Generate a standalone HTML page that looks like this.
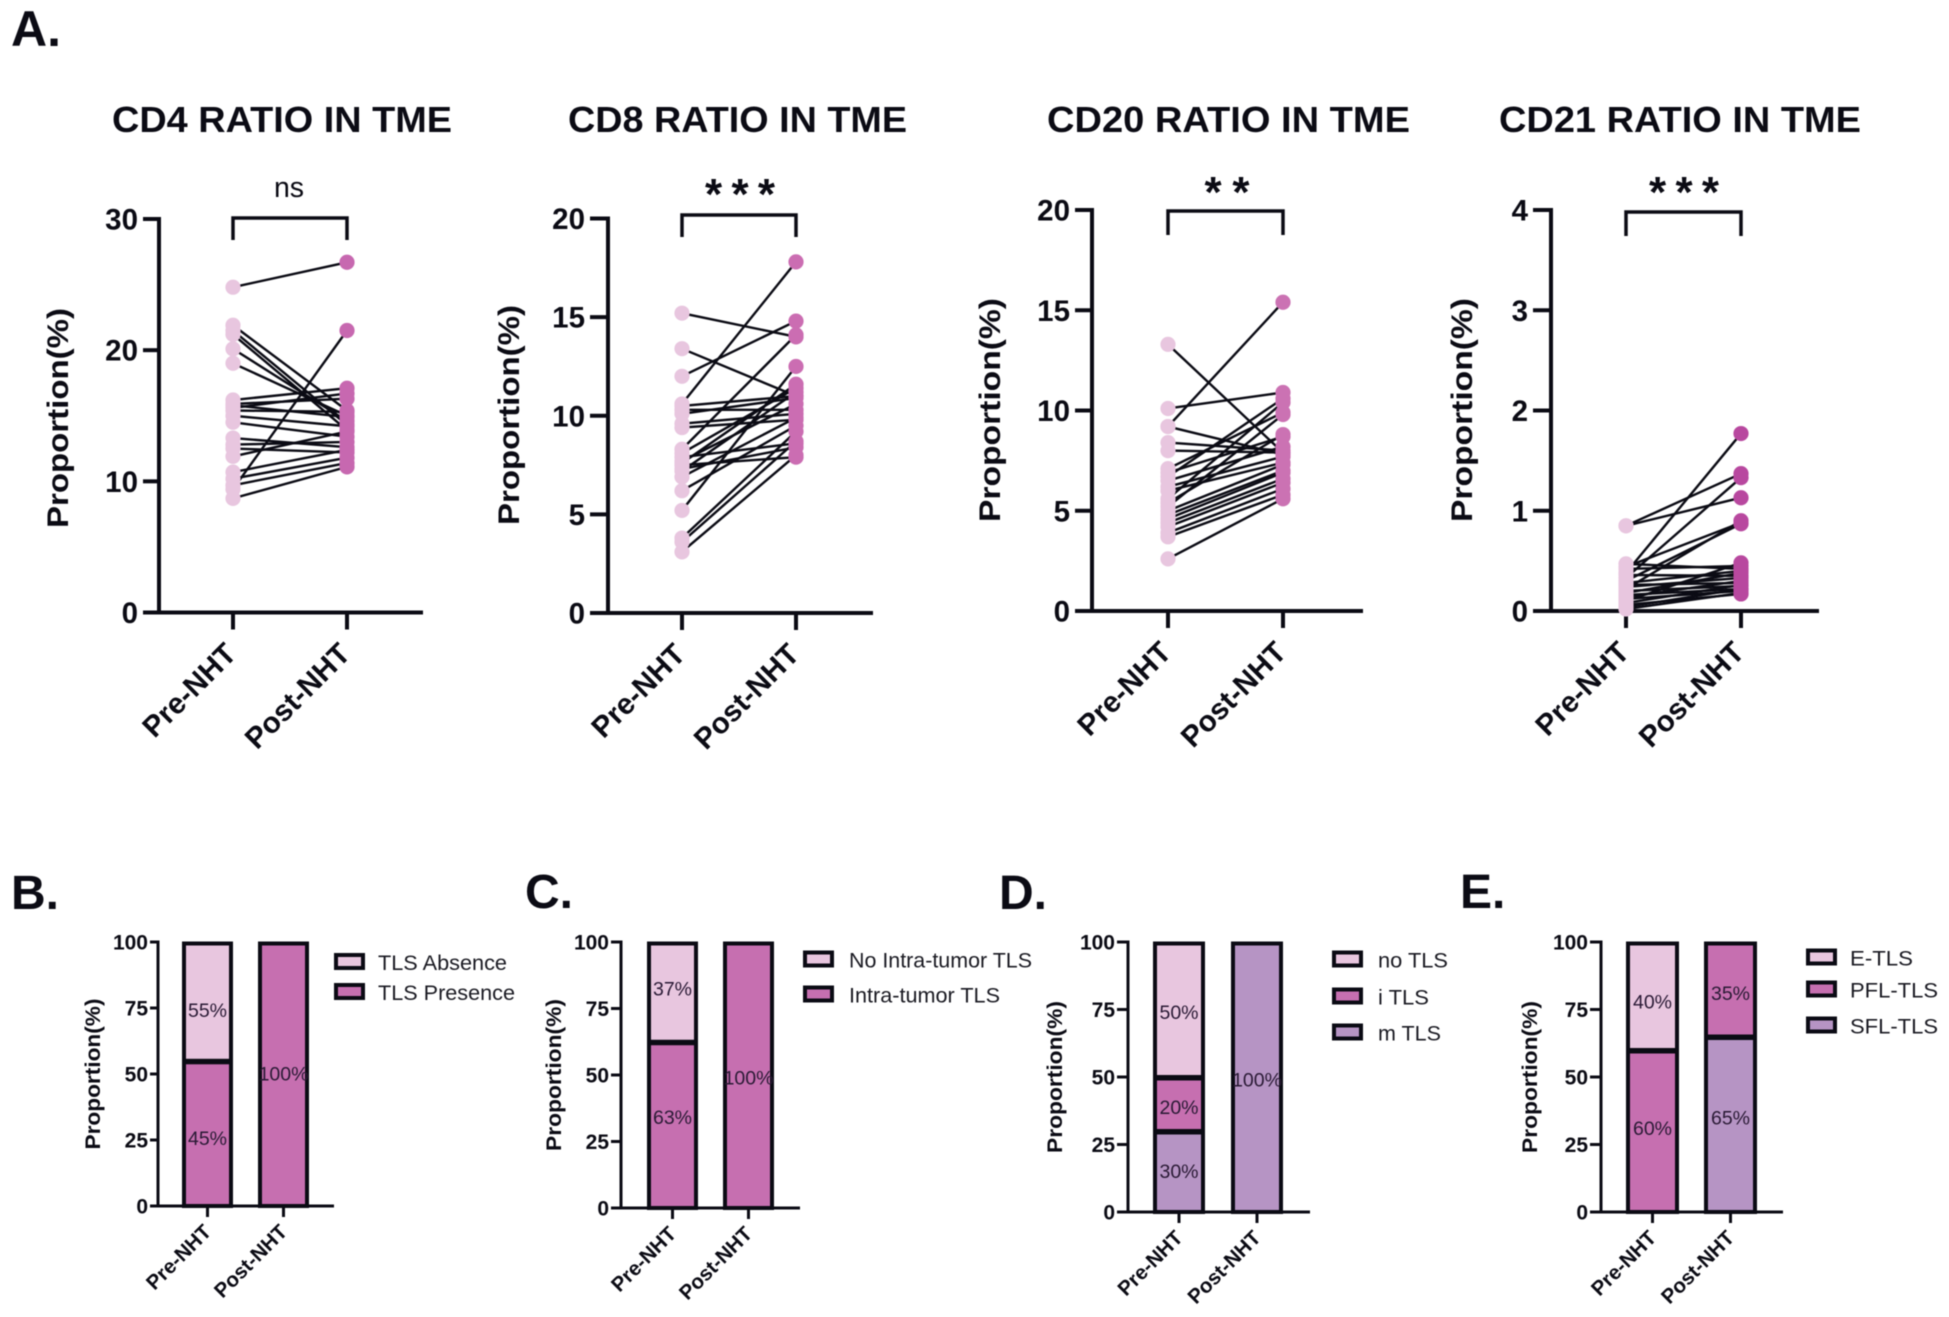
<!DOCTYPE html>
<html lang="en">
<head>
<meta charset="utf-8">
<title>TLS and immune cell ratios, Pre-NHT versus Post-NHT</title>
<style>
html,body{margin:0;padding:0;background:#fff;}
#figure{display:block;width:1949px;height:1317px;background:#fff;filter:blur(0.45px);font-family:"Liberation Sans",sans-serif;}
</style>
</head>
<body>
<svg id="figure" xmlns="http://www.w3.org/2000/svg" width="1949" height="1317" viewBox="0 0 1949 1317">
  <rect x="0" y="0" width="1949" height="1317" fill="#ffffff"/>
  <text x="11" y="46" font-size="50" font-weight="700" fill="#0b0b14">A.</text>
  <text x="11" y="909" font-size="48" font-weight="700" fill="#0b0b14">B.</text>
  <text x="525" y="908" font-size="48" font-weight="700" fill="#0b0b14">C.</text>
  <text x="999" y="909" font-size="48" font-weight="700" fill="#0b0b14">D.</text>
  <text x="1460" y="908" font-size="48" font-weight="700" fill="#0b0b14">E.</text>
  <text x="112" y="132" font-size="36" font-weight="700" fill="#0b0b14" textLength="340" lengthAdjust="spacingAndGlyphs">CD4 RATIO IN TME</text>
  <text x="568" y="132" font-size="36" font-weight="700" fill="#0b0b14" textLength="339" lengthAdjust="spacingAndGlyphs">CD8 RATIO IN TME</text>
  <text x="1047" y="132" font-size="36" font-weight="700" fill="#0b0b14" textLength="363" lengthAdjust="spacingAndGlyphs">CD20 RATIO IN TME</text>
  <text x="1499" y="132" font-size="36" font-weight="700" fill="#0b0b14" textLength="362" lengthAdjust="spacingAndGlyphs">CD21 RATIO IN TME</text>
  <g id="plots"></g>
</svg>
<script>
// ---------- Shared category and axis labels ----------
const groups = ["Pre-NHT", "Post-NHT"];
const yTitle = "Proportion(%)";
const stackTicks = [0, 25, 50, 75, 100];

// ---------- Panel A: paired values (pre[i] joins post[i]) ----------
const cd4Ticks = [0, 10, 20, 30];
const cd4Pre  = [24.8, 21.9, 21.5, 21.2, 20.1, 19.0, 16.2, 15.9, 15.8, 15.6, 15.4, 15.0, 14.5, 13.3, 12.8, 12.5, 11.9, 10.7, 10.2, 9.7, 9.4, 8.7];
const cd4Post = [26.7, 15.4, 14.3, 13.9, 14.6, 15.0, 17.1, 16.3, 14.9, 16.7, 15.3, 14.2, 13.4, 12.6, 13.0, 12.2, 13.8, 12.4, 11.8, 11.4, 21.5, 11.1];
const cd4Sig = "ns";

const cd8Ticks = [0, 5, 10, 15, 20];
const cd8Pre  = [15.2, 13.4, 12.0, 10.6, 10.5, 10.3, 10.1, 9.6, 9.4, 8.3, 8.1, 7.9, 7.7, 7.6, 7.5, 7.3, 7.2, 6.9, 6.2, 5.2, 3.8, 3.6, 3.1];
const cd8Post = [14.0, 11.0, 14.8, 17.8, 11.0, 10.3, 10.9, 10.1, 9.8, 14.1, 11.4, 8.6, 10.6, 11.6, 7.9, 8.4, 11.2, 9.9, 9.5, 12.5, 9.2, 8.7, 8.0];
const cd8Sig = "***";

const cd20Ticks = [0, 5, 10, 15, 20];
const cd20Pre  = [13.3, 10.1, 9.2, 9.2, 8.4, 8.0, 7.1, 6.9, 6.7, 6.5, 6.2, 6.0, 5.6, 5.4, 5.2, 5.0, 4.8, 4.6, 4.4, 4.2, 3.9, 3.7, 2.6];
const cd20Post = [7.9, 10.9, 15.4, 7.8, 8.0, 7.9, 9.9, 8.7, 10.6, 8.2, 7.7, 7.4, 10.4, 8.8, 9.8, 7.3, 7.0, 6.9, 6.6, 6.4, 6.1, 5.8, 5.6];
const cd20Sig = "**";

const cd21Ticks = [0, 1, 2, 3, 4];
const cd21Pre  = [0.85, 0.85, 0.47, 0.44, 0.42, 0.38, 0.36, 0.33, 0.30, 0.28, 0.26, 0.24, 0.22, 0.20, 0.18, 0.16, 0.14, 0.12, 0.10, 0.08, 0.06, 0.04, 0.02];
const cd21Post = [1.37, 1.13, 0.42, 0.88, 0.45, 1.77, 0.35, 1.33, 0.87, 0.40, 0.28, 0.33, 0.90, 0.25, 0.38, 0.22, 0.30, 0.20, 0.48, 0.26, 0.17, 0.22, 0.18];
const cd21Sig = "***";

// ---------- Panels B-E: stacked segments, bottom to top ----------
const bPreValues = [55, 45];
const bPreLabels = ["45%", "55%"];
const bPostValues = [100];
const bPostLabels = ["100%"];
const bLegend = ["TLS Absence", "TLS Presence"];

const cPreValues = [62.5, 37.5];
const cPreLabels = ["63%", "37%"];
const cPostValues = [100];
const cPostLabels = ["100%"];
const cLegend = ["No Intra-tumor TLS", "Intra-tumor TLS"];

const dPreValues = [30, 20, 50];
const dPreLabels = ["30%", "20%", "50%"];
const dPostValues = [100];
const dPostLabels = ["100%"];
const dLegend = ["no TLS", "i TLS", "m TLS"];

const ePreValues = [60, 40];
const ePreLabels = ["60%", "40%"];
const ePostValues = [65, 35];
const ePostLabels = ["65%", "35%"];
const eLegend = ["E-TLS", "PFL-TLS", "SFL-TLS"];

// ---------- Styling and layout ----------
const INK = "#0b0b14";
const LIGHT = "#e8c6df";
const MAGENTA = "#c66fb0";
const PURPLE = "#b694c4";
const root = document.getElementById("plots");
const NS = "http://www.w3.org/2000/svg";

function mk(tag, attrs, parent) {
  const el = document.createElementNS(NS, tag);
  Object.keys(attrs).forEach(function (k) { el.setAttribute(k, attrs[k]); });
  parent.appendChild(el);
  return el;
}
function seg(x1, y1, x2, y2, w, parent) {
  return mk("line", { x1: x1, y1: y1, x2: x2, y2: y2, stroke: INK, "stroke-width": w }, parent);
}

const pairedPanels = [
  { id: "cd4", pre: cd4Pre, post: cd4Post, ticks: cd4Ticks, sig: cd4Sig, axisX: 159, tickL: 143, endX: 423, top: 219, bottom: 612.5, x0: 233, x1: 347, brTop: 218, brBot: 240, sigX: 289, sigY: 197, sigW: 0, titleX: 58, titleY: 418, titleLen: 220, postColor: "#c768b0" },
  { id: "cd8", pre: cd8Pre, post: cd8Post, ticks: cd8Ticks, sig: cd8Sig, axisX: 608, tickL: 590, endX: 873, top: 218.5, bottom: 613, x0: 682, x1: 796, brTop: 215, brBot: 237, sigX: 740, sigY: 209, sigW: 70, titleX: 509, titleY: 415, titleLen: 220, postColor: "#cb6db2" },
  { id: "cd20", pre: cd20Pre, post: cd20Post, ticks: cd20Ticks, sig: cd20Sig, axisX: 1092, tickL: 1075, endX: 1363, top: 210, bottom: 611, x0: 1168, x1: 1283, brTop: 211, brBot: 235, sigX: 1227, sigY: 207, sigW: 45, titleX: 990, titleY: 410, titleLen: 224, postColor: "#cb72b3" },
  { id: "cd21", pre: cd21Pre, post: cd21Post, ticks: cd21Ticks, sig: cd21Sig, axisX: 1551, tickL: 1533, endX: 1819, top: 210, bottom: 611, x0: 1626, x1: 1741, brTop: 212, brBot: 236, sigX: 1684, sigY: 207, sigW: 70, titleX: 1462, titleY: 410, titleLen: 224, postColor: "#b8489f" }
];

const stackPanels = [
  { id: "b", preValues: bPreValues, preLabels: bPreLabels, postValues: bPostValues, postLabels: bPostLabels, preColors: [MAGENTA, LIGHT], postColors: [MAGENTA], preNudge: [5, 9], postNudge: [0],
    axisX: 158, tickL: 150, endX: 334, top: 942, bottom: 1206, bar0: 184, bar1: 260, barW: 47, titleX: 93, titleLen: 151,
    legend: bLegend, legendColors: [LIGHT, MAGENTA], swX: 336, swW: 27, swH: 13, legX: 378, legY: [962.5, 992.5], legLen: [129, 137] },
  { id: "c", preValues: cPreValues, preLabels: cPreLabels, postValues: cPostValues, postLabels: cPostLabels, preColors: [MAGENTA, LIGHT], postColors: [MAGENTA], preNudge: [-7.5, -3], postNudge: [3],
    axisX: 621, tickL: 611, endX: 800, top: 942, bottom: 1208, bar0: 649, bar1: 725, barW: 47, titleX: 554, titleLen: 152,
    legend: cLegend, legendColors: [LIGHT, MAGENTA], swX: 805, swW: 27, swH: 13, legX: 849, legY: [960, 995], legLen: [183, 151] },
  { id: "d", preValues: dPreValues, preLabels: dPreLabels, postValues: dPostValues, postLabels: dPostLabels, preColors: [PURPLE, MAGENTA, LIGHT], postColors: [PURPLE], preNudge: [0, 3.5, 3], postNudge: [3],
    axisX: 1128, tickL: 1117, endX: 1310, top: 942, bottom: 1212, bar0: 1155, bar1: 1233, barW: 48, titleX: 1055, titleLen: 152,
    legend: dLegend, legendColors: [LIGHT, MAGENTA, PURPLE], swX: 1334, swW: 27, swH: 13, legX: 1378, legY: [960, 997, 1033], legLen: [70, 51, 63] },
  { id: "e", preValues: ePreValues, preLabels: ePreLabels, postValues: ePostValues, postLabels: ePostLabels, preColors: [MAGENTA, LIGHT], postColors: [PURPLE, MAGENTA], preNudge: [-2.5, 6], postNudge: [-6.5, 4],
    axisX: 1601, tickL: 1590, endX: 1783, top: 942, bottom: 1212, bar0: 1628, bar1: 1706, barW: 49, titleX: 1530, titleLen: 152,
    legend: eLegend, legendColors: [LIGHT, MAGENTA, PURPLE], swX: 1808, swW: 27, swH: 13, legX: 1850, legY: [958, 990, 1026], legLen: [63, 88, 88] }
];

// ---------- Panel A drawing ----------
pairedPanels.forEach(function (p) {
  const g = mk("g", {}, root);
  
  
  const maxV = p.ticks[p.ticks.length - 1];
  const yScale = function (v) { return p.bottom - (v / maxV) * (p.bottom - p.top); };

  const yAxis = seg(p.axisX, p.top - 2, p.axisX, p.bottom + 2, 4, g);
  
  
  const xAxis = seg(p.tickL, p.bottom, p.endX, p.bottom, 4, g);
  
  

  p.ticks.forEach(function (t) {
    const y = yScale(t);
    const tm = seg(p.tickL, y, p.axisX, y, 4, g);
    
    
    const lab = mk("text", { x: p.tickL - 5, y: y + 10.5, "text-anchor": "end", "font-size": 29.5, "font-weight": 700, fill: INK }, g);
    lab.textContent = String(t);
    
    
  });

  const yt = mk("text", { x: 0, y: 0, "text-anchor": "middle", "font-size": 30, "font-weight": 700, fill: INK, textLength: p.titleLen, lengthAdjust: "spacingAndGlyphs", transform: "translate(" + (p.titleX + 10) + " " + p.titleY + ") rotate(-90)" }, g);
  yt.textContent = yTitle;
  
  

  [p.x0, p.x1].forEach(function (x, i) {
    const tm = seg(x, p.bottom, x, p.bottom + 17, 4, g);
    
    
    const ax = x + 5;
    const ay = p.bottom + 43;
    const lab = mk("text", { x: ax, y: ay, "text-anchor": "end", "font-size": 29.5, "font-weight": 700, fill: INK, transform: "rotate(-45 " + ax + " " + ay + ")" }, g);
    lab.textContent = groups[i];
    
    
  });

  const br = mk("path", { d: "M" + p.x0 + " " + p.brBot + "V" + p.brTop + "H" + p.x1 + "V" + p.brBot, fill: "none", stroke: INK, "stroke-width": 3.5 }, g);
  
  

  const isStars = p.sig.indexOf("*") >= 0;
  const sigAttrs = { x: p.sigX, y: p.sigY, "text-anchor": "middle", "font-size": isStars ? 44 : 28.5, "font-weight": isStars ? 700 : 400, fill: INK };
  if (isStars) { sigAttrs.textLength = p.sigW; sigAttrs.lengthAdjust = "spacing"; }
  const sig = mk("text", sigAttrs, g);
  sig.textContent = p.sig;
  
  

  p.pre.forEach(function (v, i) {
    const ln = seg(p.x0, yScale(v), p.x1, yScale(p.post[i]), 2.4, g);
    
    
  });
  p.pre.forEach(function (v) {
    const d = mk("circle", { cx: p.x0, cy: yScale(v), r: 7.6, fill: LIGHT }, g);
    
    
  });
  p.post.forEach(function (v) {
    const d = mk("circle", { cx: p.x1, cy: yScale(v), r: 7.6, fill: p.postColor }, g);
    
    
  });
});

// ---------- Panels B-E drawing ----------
stackPanels.forEach(function (p) {
  const g = mk("g", {}, root);
  
  
  const yScale = function (v) { return p.bottom - (v / 100) * (p.bottom - p.top); };

  function drawBar(x, values, labels, colors, idx, nudge) {
    let acc = 0;
    const cx = x + p.barW / 2;
    values.forEach(function (v, i) {
      const yTop = yScale(acc + v);
      const yBot = yScale(acc);
      const r = mk("rect", { x: x, y: yTop + 1.5, width: p.barW, height: yBot - yTop - 1.5, fill: colors[i], stroke: INK, "stroke-width": 4 }, g);
      
      
      acc += v;
    });
    acc = 0;
    values.forEach(function (v, i) {
      const lab = mk("text", { x: cx, y: yScale(acc + v / 2) + 6.5 + nudge[i], "text-anchor": "middle", "font-size": 19.5, fill: "#2a1a35" }, g);
      lab.textContent = labels[i];
      
      
      acc += v;
    });
  }
  drawBar(p.bar0, p.preValues, p.preLabels, p.preColors, 0, p.preNudge);
  drawBar(p.bar1, p.postValues, p.postLabels, p.postColors, 1, p.postNudge);

  const yAxis = seg(p.axisX, p.top - 1.5, p.axisX, p.bottom + 1.5, 3, g);
  
  
  const xAxis = seg(p.tickL, p.bottom, p.endX, p.bottom, 3, g);
  
  

  stackTicks.forEach(function (t) {
    const y = yScale(t);
    const tm = seg(p.tickL, y, p.axisX, y, 3, g);
    
    
    const lab = mk("text", { x: p.tickL - 2, y: y + 7.5, "text-anchor": "end", "font-size": 21, "font-weight": 700, fill: INK }, g);
    lab.textContent = String(t);
    
    
  });

  const yt = mk("text", { x: 0, y: 0, "text-anchor": "middle", "font-size": 21, "font-weight": 700, fill: INK, textLength: p.titleLen, lengthAdjust: "spacingAndGlyphs", transform: "translate(" + (p.titleX + 7) + " " + ((p.top + p.bottom) / 2) + ") rotate(-90)" }, g);
  yt.textContent = yTitle;
  
  

  [p.bar0, p.bar1].forEach(function (x, i) {
    const cx = x + p.barW / 2;
    const tm = seg(cx, p.bottom, cx, p.bottom + 11, 3, g);
    
    
    const ax = cx + 5;
    const ay = p.bottom + 27;
    const lab = mk("text", { x: ax, y: ay, "text-anchor": "end", "font-size": 20.5, "font-weight": 700, fill: INK, transform: "rotate(-45 " + ax + " " + ay + ")" }, g);
    lab.textContent = groups[i];
    
    
  });

  p.legend.forEach(function (name, i) {
    const y = p.legY[i];
    const sw = mk("rect", { x: p.swX, y: y - p.swH / 2 - 1, width: p.swW, height: p.swH, fill: p.legendColors[i], stroke: INK, "stroke-width": 4 }, g);
    
    
    const lab = mk("text", { x: p.legX, y: y + 7.5, "font-size": 21, fill: "#1a1a22", textLength: p.legLen[i], lengthAdjust: "spacingAndGlyphs" }, g);
    lab.textContent = name;
    
    
  });
});
</script>
</body>
</html>
